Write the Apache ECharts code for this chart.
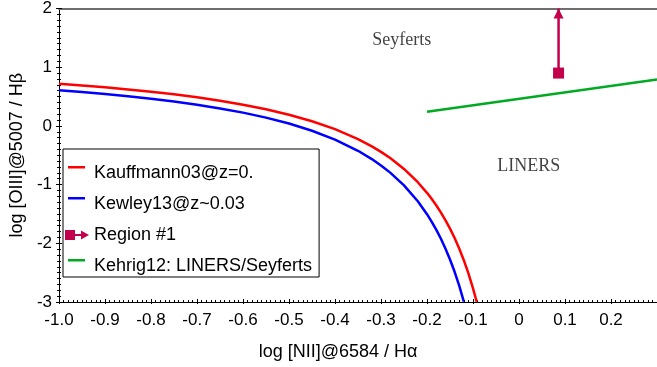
<!DOCTYPE html>
<html>
<head>
<meta charset="utf-8">
<script src="https://cdn.jsdelivr.net/npm/echarts@6/dist/echarts.min.js"></script>
<style>
html,body{margin:0;padding:0;background:#fff;}
#chart{width:657px;height:367px;}
</style>
</head>
<body>
<div id="chart"></div>
<script>
// ---- data ----
const xTickValues = [-1.0, -0.9, -0.8, -0.7, -0.6, -0.5, -0.4, -0.3, -0.2, -0.1, 0, 0.1, 0.2];
const xTickLabels = ['-1.0', '-0.9', '-0.8', '-0.7', '-0.6', '-0.5', '-0.4', '-0.3', '-0.2', '-0.1', '0', '0.1', '0.2'];
const yTickLabels = ['-3', '-2', '-1', '0', '1', '2'];

const kauffX = [-1.0, -0.95, -0.9, -0.85, -0.8, -0.75, -0.7, -0.65, -0.6, -0.55, -0.5, -0.45, -0.4, -0.35, -0.32, -0.3, -0.28, -0.25, -0.22, -0.2, -0.19, -0.18, -0.17, -0.16, -0.15, -0.14, -0.13, -0.12, -0.11, -0.1, -0.092];
const kauffY = [0.719, 0.690, 0.658, 0.622, 0.582, 0.538, 0.487, 0.429, 0.362, 0.283, 0.191, 0.080, -0.056, -0.225, -0.349, -0.443, -0.548, -0.733, -0.959, -1.140, -1.242, -1.352, -1.473, -1.605, -1.750, -1.911, -2.089, -2.288, -2.513, -2.767, -2.996];

const kewleyX = [-1.0, -0.95, -0.9, -0.85, -0.8, -0.75, -0.7, -0.65, -0.6, -0.55, -0.5, -0.45, -0.4, -0.35, -0.32, -0.3, -0.28, -0.25, -0.22, -0.2, -0.19, -0.18, -0.17, -0.16, -0.15, -0.14, -0.13, -0.12, -0.1197];
const kewleyY = [0.606, 0.576, 0.542, 0.504, 0.462, 0.414, 0.360, 0.298, 0.226, 0.141, 0.040, -0.082, -0.233, -0.424, -0.565, -0.673, -0.796, -1.013, -1.284, -1.504, -1.630, -1.768, -1.919, -2.088, -2.275, -2.485, -2.722, -2.992, -3.0];

const kehrigX = [-0.2, 0.3];
const kehrigY = [0.24, 0.79];

const regionX = [0.086];
const regionY = [0.9];
const regionLimitY = [2.0];

const annotationNames = ['Seyferts', 'LINERS'];
const annotationX = [-0.255, 0.021];
const annotationY = [1.46, -0.69];

const seriesNames = ['Kauffmann03@z=0.', 'Kewley13@z~0.03', 'Region #1', 'Kehrig12: LINERS/Seyferts'];
// ---------------------------------------

const zip = (xs, ys) => xs.map((x, i) => [x, ys[i]]);
const SANS = 'Liberation Sans, Arial, sans-serif';
const SERIF = 'Liberation Serif, Times New Roman, serif';
const REGION = '#c3004b';

const chart = echarts.init(document.getElementById('chart'), null, {renderer: 'canvas'});

const xLabel = v => {
  const i = xTickValues.findIndex(t => Math.abs(t - v) < 1e-6);
  return i >= 0 ? xTickLabels[i] : '';
};
const yLabel = v => {
  const i = Math.round(v) + 3;
  return yTickLabels[i] !== undefined ? yTickLabels[i] : '';
};

const lineIcon = 'path://M0,0M24,14M3,0h17v2.5h-17z';
const regionIcon = 'path://M0,0M24,14M0,2h10v10h-10zM10,6h7v2h-7zM16,2.5L24,7L16,11.5z';

const option = {
  animation: false,
  backgroundColor: '#fff',
  grid: {left: 52, top: 6, right: 0, bottom: 65, containLabel: false},
  legend: {
    orient: 'vertical',
    left: 63, top: 149,
    padding: [15, 7, 2, 2],
    itemWidth: 24, itemHeight: 14, itemGap: 13,
    borderColor: '#000', borderWidth: 1,
    backgroundColor: '#fff',
    textStyle: {fontFamily: SANS, fontSize: 18, color: '#000'},
    itemStyle: {borderWidth: 0},
    data: [
      {name: seriesNames[0], icon: lineIcon},
      {name: seriesNames[1], icon: lineIcon},
      {name: seriesNames[2], icon: regionIcon},
      {name: seriesNames[3], icon: lineIcon}
    ]
  },
  xAxis: [
    {
      type: 'value', min: -1.0, max: 0.3, interval: 0.1,
      position: 'bottom',
      name: 'log [NII]@6584 / Hα', nameLocation: 'middle', nameGap: 41,
      nameTextStyle: {fontFamily: SANS, fontSize: 18, color: '#000', padding: [0, 40, 0, 0]},
      axisLine: {show: true, onZero: false, lineStyle: {color: '#000', width: 1}},
      axisTick: {show: true, inside: true, length: 3, lineStyle: {color: '#000'}},
      minorTick: {show: true, splitNumber: 10, length: 2, lineStyle: {color: '#000'}},
      axisLabel: {formatter: xLabel, showMaxLabel: false, margin: 10, fontFamily: SANS, fontSize: 17, color: '#000'},
      splitLine: {show: false}
    },
    {
      type: 'value', min: -1.0, max: 0.3, interval: 0.1,
      position: 'top',
      axisLine: {show: true, onZero: false, lineStyle: {color: '#6e6e6e', width: 2}},
      axisTick: {show: false}, axisLabel: {show: false}, splitLine: {show: false}
    },
    {
      type: 'value', min: -1.0, max: 0.3, interval: 0.1,
      position: 'bottom', offset: 0,
      axisLine: {show: false, onZero: false},
      axisTick: {show: true, inside: false, length: 2, lineStyle: {color: '#000'}},
      axisLabel: {show: false}, splitLine: {show: false}
    }
  ],
  yAxis: [
    {
      type: 'value', min: -3, max: 2, interval: 1,
      position: 'left',
      name: 'log [OIII]@5007 / Hβ', nameLocation: 'middle', nameGap: 28,
      nameTextStyle: {fontFamily: SANS, fontSize: 18, color: '#000'},
      axisLine: {show: true, onZero: false, lineStyle: {color: '#000', width: 1}},
      axisTick: {show: true, inside: true, length: 3, lineStyle: {color: '#000'}},
      minorTick: {show: true, splitNumber: 10, length: 2, lineStyle: {color: '#000'}},
      axisLabel: {formatter: yLabel, margin: 7, fontFamily: SANS, fontSize: 17, color: '#000'},
      splitLine: {show: false}
    },
    {
      type: 'value', min: -3, max: 2, interval: 1,
      position: 'left', offset: 0,
      axisLine: {show: false, onZero: false},
      axisTick: {show: true, inside: false, length: 3, lineStyle: {color: '#000'}},
      minorTick: {show: true, splitNumber: 10, length: 2, lineStyle: {color: '#000'}},
      axisLabel: {show: false}, splitLine: {show: false}
    }
  ],
  series: [
    {
      name: seriesNames[0], type: 'line', xAxisIndex: 0, yAxisIndex: 0,
      data: zip(kauffX, kauffY), showSymbol: false, symbol: 'none',
      color: '#ff0000', lineStyle: {color: '#ff0000', width: 2.5}, z: 3
    },
    {
      name: seriesNames[1], type: 'line', xAxisIndex: 0, yAxisIndex: 0,
      data: zip(kewleyX, kewleyY), showSymbol: false, symbol: 'none',
      color: '#0000ff', lineStyle: {color: '#0000ff', width: 2.5}, z: 3
    },
    {
      name: seriesNames[2], type: 'line', xAxisIndex: 0, yAxisIndex: 0,
      color: REGION, lineStyle: {color: REGION, width: 2.5},
      itemStyle: {color: REGION}, clip: false, z: 4,
      data: [
        {value: [regionX[0], regionY[0]], symbol: 'rect', symbolSize: 11},
        {value: [regionX[0], regionLimitY[0]], symbol: 'triangle', symbolSize: [10, 10], symbolOffset: [0, 5]}
      ]
    },
    {
      name: seriesNames[3], type: 'line', xAxisIndex: 0, yAxisIndex: 0,
      data: zip(kehrigX, kehrigY), showSymbol: false, symbol: 'none',
      color: '#00aa22', lineStyle: {color: '#00aa22', width: 2.5}, z: 3
    },
    {
      name: 'annotations', type: 'scatter', xAxisIndex: 0, yAxisIndex: 0,
      symbolSize: 0, itemStyle: {color: '#000'}, silent: true,
      data: annotationNames.map((n, i) => ({name: n, value: [annotationX[i], annotationY[i]]})),
      label: {show: true, position: 'inside', formatter: p => p.name,
        fontFamily: SERIF, fontSize: 18, color: '#111', textBorderWidth: 0}
    }
  ]
};
chart.setOption(option);
</script>
</body>
</html>
